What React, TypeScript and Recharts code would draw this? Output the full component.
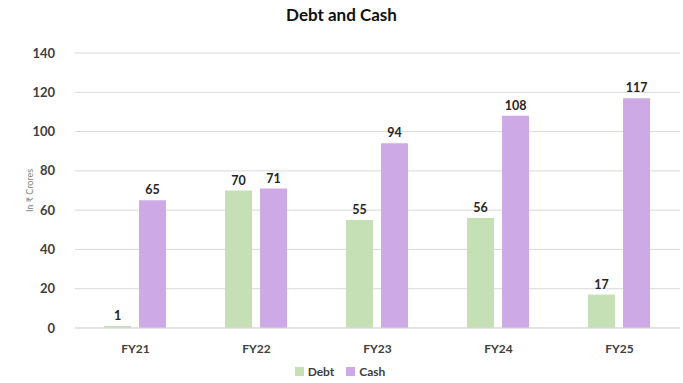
import { BarChart, Bar, XAxis, YAxis, CartesianGrid, Legend, LabelList, Label } from "recharts";

// Chart data
const years = ["FY21", "FY22", "FY23", "FY24", "FY25"];
const debt = [1, 70, 55, 56, 17];
const cash = [65, 71, 94, 108, 117];
const yTicks = [0, 20, 40, 60, 80, 100, 120, 140];

const series = [
  { key: "Debt", color: "#c5e0b4" },
  { key: "Cash", color: "#cdaae6" },
];

const rows = years.map((year, i) => ({ year, Debt: debt[i], Cash: cash[i] }));

const font = "Lato, 'Open Sans', sans-serif";

// legend in series order (Debt first), recharts sorts by name otherwise
const LegendBox = () => (
  <div style={{ display: "flex", justifyContent: "center", gap: 12, paddingTop: 6 }}>
    {series.map((s) => (
      <span key={s.key} style={{ display: "flex", alignItems: "center", gap: 4 }}>
        <span style={{ width: 9, height: 9, background: s.color, display: "inline-block" }} />
        <span style={{ color: "#404040", fontSize: 12, fontWeight: 700, fontFamily: font }}>{s.key}</span>
      </span>
    ))}
  </div>
);

export default function App() {
  return (
    <div
      style={{
        position: "absolute",
        left: 0,
        top: 0,
        width: 683,
        height: 383,
        background: "#fff",
        fontFamily: font,
      }}
    >
      {/* Title */}
      <div
        style={{
          position: "absolute",
          top: 4,
          width: 683,
          textAlign: "center",
          fontSize: 17,
          fontWeight: 700,
          color: "#111",
        }}
      >
        Debt and Cash
      </div>

      <BarChart
        width={683}
        height={383}
        data={rows}
        margin={{ top: 53, right: 3, left: 0, bottom: 4 }}
        barCategoryGap="24%"
        barGap={8}
      >
        <CartesianGrid vertical={false} stroke="#d9d9d9" />
        <XAxis
          dataKey="year"
          axisLine={{ stroke: "#d9d9d9" }}
          tickLine={false}
          tick={{ fill: "#404040", fontSize: 12, fontWeight: 700, fontFamily: font }}
          tickMargin={10}
          height={30}
        />
        <YAxis
          width={75}
          domain={[0, 140]}
          ticks={yTicks}
          axisLine={false}
          tickLine={false}
          tickMargin={14}
          tick={{ fill: "#404040", fontSize: 13, fontWeight: 700, fontFamily: font }}
        >
          <Label
            value="In ₹ Crores"
            angle={-90}
            position="insideLeft"
            offset={30}
            style={{ fill: "#808080", fontSize: 9, fontFamily: font, textAnchor: "middle" }}
          />
        </YAxis>
        <Legend verticalAlign="bottom" content={<LegendBox />} />
        {series.map((s) => (
          <Bar key={s.key} dataKey={s.key} fill={s.color} isAnimationActive={false}>
            <LabelList
              dataKey={s.key}
              position="top"
              offset={6}
              style={{ fill: "#262626", fontSize: 12.5, fontWeight: 700, fontFamily: font }}
            />
          </Bar>
        ))}
      </BarChart>
    </div>
  );
}
